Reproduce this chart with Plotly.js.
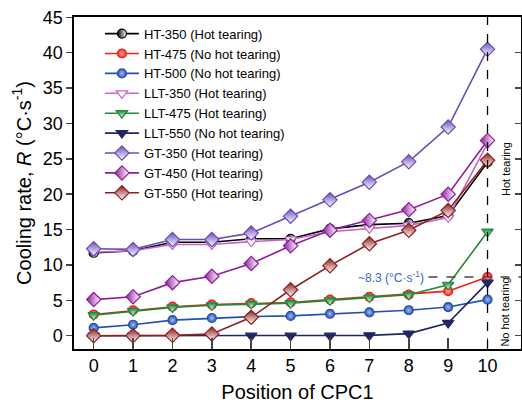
<!DOCTYPE html>
<html>
<head>
<meta charset="utf-8">
<script src="https://cdn.plot.ly/plotly-3.0.1.min.js"></script>
<style>html,body{margin:0;padding:0;background:#fff;}#chart{width:522px;height:408px;}</style>
</head>
<body>
<div id="chart"></div>
<script>
const positions = [0, 1, 2, 3, 4, 5, 6, 7, 8, 9, 10];
const seriesNames = ["HT-350 (Hot tearing)", "HT-475 (No hot tearing)", "HT-500 (No hot tearing)",
  "LLT-350 (Hot tearing)", "LLT-475 (Hot tearing)", "LLT-550 (No hot tearing)",
  "GT-350 (Hot tearing)", "GT-450 (Hot tearing)", "GT-550 (Hot tearing)"];
const ht350  = [11.7, 12.0, 13.2, 13.2, 13.7, 13.7, 15.1, 15.7, 15.9, 17.0, 24.5];
const ht475  = [3.0, 3.6, 4.1, 4.4, 4.6, 4.7, 5.1, 5.5, 5.8, 6.3, 8.3];
const ht500  = [1.1, 1.55, 2.2, 2.5, 2.7, 2.8, 3.1, 3.3, 3.6, 4.05, 5.1];
const llt350 = [11.8, 12.0, 12.9, 12.9, 13.3, 13.6, 14.7, 15.2, 15.6, 16.7, 27.2];
const llt475 = [2.9, 3.5, 4.0, 4.3, 4.5, 4.6, 5.0, 5.4, 5.8, 7.2, 14.7];
const llt550 = [0, 0, 0, 0, 0, 0, 0, 0.05, 0.3, 1.8, 7.5];
const gt350  = [12.3, 12.2, 13.6, 13.6, 14.5, 16.9, 19.2, 21.7, 24.6, 29.5, 40.5];
const gt450  = [5.1, 5.5, 7.5, 8.4, 10.2, 12.7, 14.9, 16.3, 17.8, 20.0, 27.6];
const gt550  = [0, 0, 0.05, 0.25, 2.6, 6.5, 9.9, 13.0, 14.9, 17.7, 24.8];
const yTicks = [0, 5, 10, 15, 20, 25, 30, 35, 40, 45];
const criticalRate = 8.3;

const styles = [
  {c: "#000000", sym: "circle", size: 9, grad: {type: "horizontal", color: "#ffffff"}},
  {c: "#e8231c", sym: "circle", size: 9, grad: {type: "radial", color: "#ffb5a8"}},
  {c: "#2350b0", sym: "circle", size: 9, grad: {type: "radial", color: "#a9c0f0"}},
  {c: "#c466c8", sym: "triangle-down", size: 10, fill: "#ffffff"},
  {c: "#1f8a3c", sym: "triangle-down", size: 10, grad: {type: "vertical", color: "#ffffff"}},
  {c: "#1f2660", sym: "triangle-down", size: 10},
  {c: "#6a4cb8", sym: "diamond", size: 11, grad: {type: "vertical", color: "#ffffff"}},
  {c: "#8e1d9c", sym: "diamond", size: 11, grad: {type: "horizontal", color: "#ffffff"}},
  {c: "#8e1f1f", sym: "diamond", size: 11, grad: {type: "vertical", color: "#ffffff"}}
];
const allY = [ht350, ht475, ht500, llt350, llt475, llt550, gt350, gt450, gt550];

const traces = allY.map((ys, i) => {
  const s = styles[i];
  const marker = {symbol: s.sym, size: s.size, color: s.fill || s.c, line: {color: s.c, width: 1.2}};
  if (s.grad) marker.gradient = s.grad;
  return {x: positions, y: ys, name: seriesNames[i], type: "scatter", mode: "lines+markers",
    line: {color: s.c, width: 1.6}, marker: marker};
});
// invisible trace for right-side inner ticks
traces.push({x: [positions[0]], y: [yTicks[0]], yaxis: "y2", mode: "markers",
  marker: {opacity: 0}, showlegend: false, hoverinfo: "skip"});

const font = "Arial, 'Liberation Sans', sans-serif";
const yRange = [-1.88, 45.05];
const layout = {
  width: 522, height: 408,
  margin: {l: 74, r: 1, t: 17, b: 59},
  paper_bgcolor: "#fff", plot_bgcolor: "#fff",
  font: {family: font, color: "#000"},
  showlegend: true,
  legend: {x: 0.058, y: 0.995, xanchor: "left", yanchor: "top", bgcolor: "rgba(0,0,0,0)",
    font: {size: 13, family: font}, tracegroupgap: 0, itemwidth: 34},
  xaxis: {range: [-0.5, 10.85], tickvals: positions, ticks: "inside", ticklen: 11, tickwidth: 1.5,
    showline: true, linewidth: 1.6, linecolor: "#000", mirror: true, showgrid: false, zeroline: false,
    tickfont: {size: 18}, title: {text: "Position of CPC1", font: {size: 20}, standoff: 10}},
  yaxis: {range: yRange, tickvals: yTicks, ticks: "outside", ticklen: 6, tickwidth: 1.5,
    showline: true, linewidth: 1.6, linecolor: "#000", showgrid: false, zeroline: false,
    tickfont: {size: 18}, title: {text: "Cooling rate, <i>R</i> (°C·s<sup>-1</sup>)", font: {size: 20}, standoff: 6}},
  yaxis2: {range: yRange, tickvals: yTicks, ticks: "inside", ticklen: 6, tickwidth: 1.5, overlaying: "y",
    side: "right", showline: true, linewidth: 1.6, linecolor: "#000", showticklabels: false,
    showgrid: false, zeroline: false},
  shapes: [
    {type: "line", xref: "x", yref: "paper", x0: positions[10], x1: positions[10], y0: 0, y1: 1,
      line: {color: "#000", width: 1.3, dash: "dash"}},
    {type: "line", xref: "x", yref: "y", x0: 8.5, x1: 10.85, y0: criticalRate, y1: criticalRate,
      line: {color: "#444", width: 1.5, dash: "dash"}}
  ],
  annotations: [
    {x: 8.43, y: criticalRate, xref: "x", yref: "y", xanchor: "right", yanchor: "middle", showarrow: false,
      text: "~8.3 (°C·s<sup>-1</sup>)", font: {size: 12, color: "#3568c0"}},
    {x: 10.45, y: 23.6, xref: "x", yref: "y", textangle: -90, showarrow: false,
      text: "Hot tearing", font: {size: 11}},
    {x: 10.45, y: 3.3, xref: "x", yref: "y", textangle: -90, showarrow: false,
      text: "No hot tearing", font: {size: 11}}
  ]
};
Plotly.newPlot("chart", traces, layout, {displayModeBar: false, staticPlot: true});
</script>
</body>
</html>
